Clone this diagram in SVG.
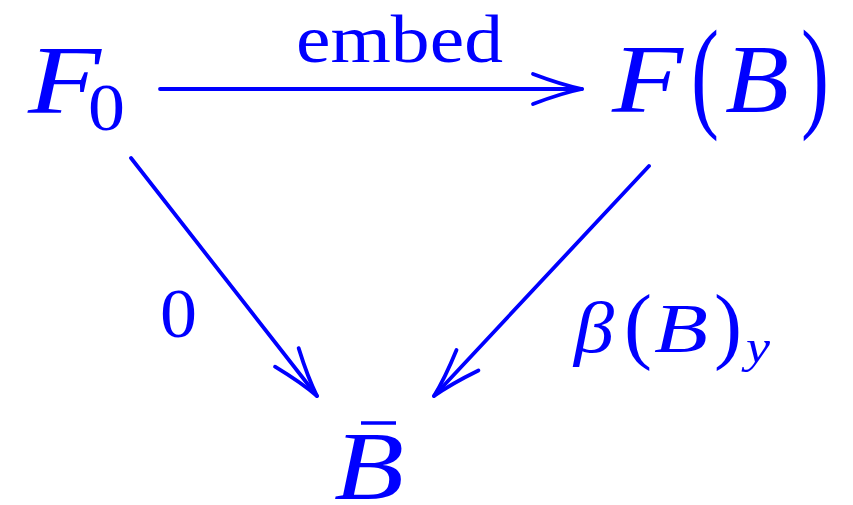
<svg xmlns="http://www.w3.org/2000/svg" width="853" height="505" viewBox="0 0 853 505">
<style>
text{font-family:"Liberation Serif","Times New Roman",serif;fill:#0000FF}
.it{font-style:italic}
.edge{stroke:#0000FF;stroke-width:3.8;fill:none;stroke-linecap:round}
.head{stroke:#0000FF;stroke-width:3.8;fill:none;stroke-linecap:round;stroke-linejoin:round}
</style>
<defs>
<marker id="arr" markerUnits="userSpaceOnUse" viewBox="-52 -18 56 36" refX="0" refY="0" markerWidth="56" markerHeight="36" orient="auto" overflow="visible">
<path class="head" d="M-49,-15 Q-20,-4 0,0 Q-20,4 -49,15"/>
</marker>
</defs>
<rect width="853" height="505" fill="#FFFFFF"/>
<g id="F0">
<text x="28" y="113" font-size="98" class="it" textLength="73" lengthAdjust="spacingAndGlyphs">F</text>
<text x="88" y="130" font-size="68" textLength="37" lengthAdjust="spacingAndGlyphs">0</text>
</g>
<g id="FB">
<text x="612" y="112" font-size="98" class="it" textLength="71" lengthAdjust="spacingAndGlyphs">F</text>
<text x="691" y="115" font-size="123" textLength="28" lengthAdjust="spacingAndGlyphs">(</text>
<text x="725" y="112" font-size="98" class="it" textLength="64" lengthAdjust="spacingAndGlyphs">B</text>
<text x="801" y="115" font-size="123" textLength="28" lengthAdjust="spacingAndGlyphs">)</text>
</g>
<g id="Bbar">
<line x1="361" y1="423" x2="396" y2="423" stroke="#0000FF" stroke-width="3.5"/>
<text x="334" y="499" font-size="98" class="it" textLength="70" lengthAdjust="spacingAndGlyphs">B</text>
</g>
<g id="connectors">
<line class="edge" x1="160" y1="89" x2="582" y2="89" marker-end="url(#arr)"/>
<line class="edge" x1="131" y1="158" x2="317" y2="396" marker-end="url(#arr)"/>
<line class="edge" x1="649" y1="166" x2="434" y2="396" marker-end="url(#arr)"/>
</g>
<g id="labels">
<text x="296" y="62" font-size="68" textLength="207" lengthAdjust="spacingAndGlyphs">embed</text>
<text x="160" y="337" font-size="70" textLength="37" lengthAdjust="spacingAndGlyphs">0</text>
<text x="574" y="352" font-size="72" class="it" textLength="40" lengthAdjust="spacingAndGlyphs">β</text>
<text x="624" y="353" font-size="85" textLength="28" lengthAdjust="spacingAndGlyphs">(</text>
<text x="654" y="352" font-size="70" class="it" textLength="54" lengthAdjust="spacingAndGlyphs">B</text>
<text x="714" y="353" font-size="85" textLength="28" lengthAdjust="spacingAndGlyphs">)</text>
<text x="746" y="362" font-size="47" class="it" textLength="24" lengthAdjust="spacingAndGlyphs">y</text>
</g>
</svg>
